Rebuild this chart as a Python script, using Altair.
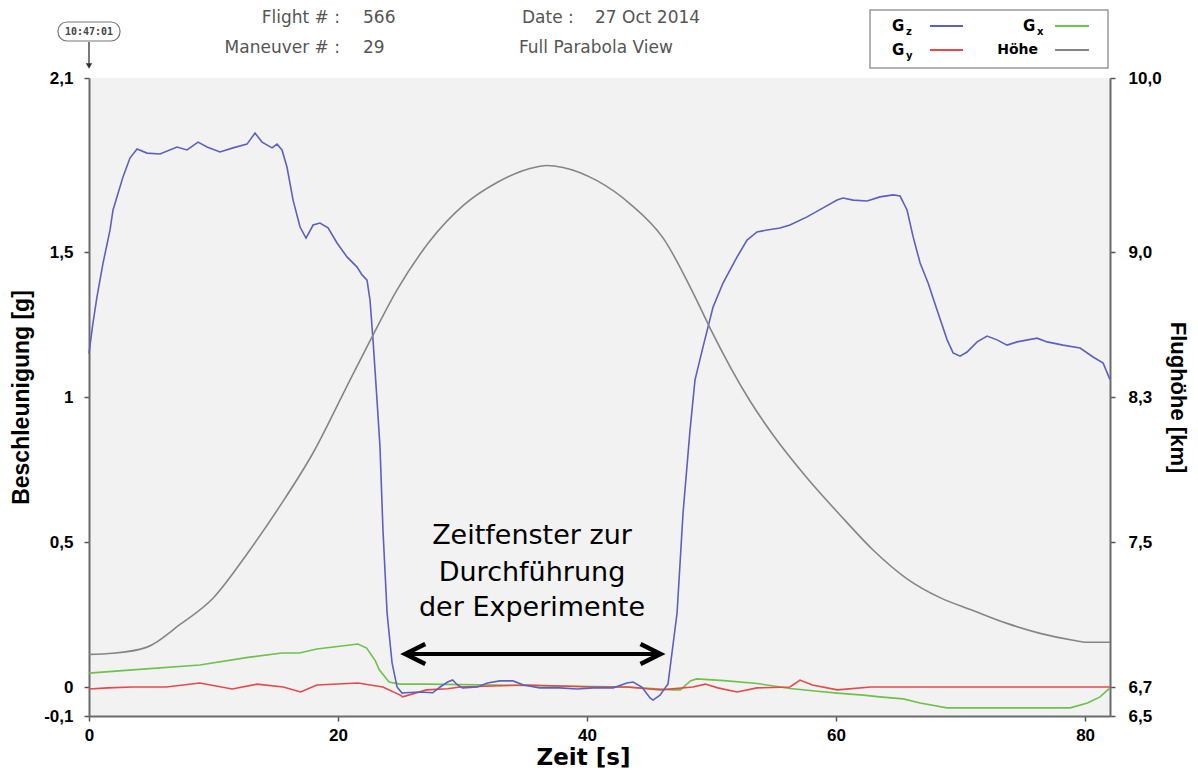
import altair as alt
import pandas as pd

W, H = 1021, 638

# ---- data ----
gz_t = [0.0,0.3,0.64,1.12,1.69,1.93,2.73,3.29,3.86,4.66,
        5.7,7.07,7.87,8.76,9.48,10.52,11.57,12.69,13.33,13.9,
        14.7,15.1,15.5,15.9,16.39,16.95,17.43,18.0,18.55,19.2,
        19.92,20.72,21.53,21.93,22.33,22.57,22.81,23.13,23.37,23.61,
        23.94,24.34,24.74,25.14,25.4,26.6,27.6,28.2,28.8,29.2,
        29.6,30.0,31.2,32.0,33.0,34.05,34.9,36.2,37.8,39.2,
        40.5,42.1,43.2,43.7,44.4,45.06,45.3,45.86,46.27,46.5,
        47.23,47.71,48.27,48.67,49.31,50.12,50.92,52.05,52.85,53.65,
        54.46,55.5,56.3,57.67,58.96,60.08,60.56,61.37,62.49,63.53,
        64.58,65.14,65.7,66.19,66.75,67.39,68.11,68.92,69.4,69.96,
        70.52,71.33,72.13,72.93,73.73,74.54,76.14,76.95,78.23,79.6,
        80.64,81.45,82.0]
gz_g = [1.15,1.25,1.345,1.46,1.576,1.645,1.759,1.824,1.855,1.841,
        1.838,1.862,1.852,1.879,1.862,1.845,1.859,1.872,1.910,1.879,
        1.859,1.872,1.852,1.793,1.679,1.586,1.548,1.593,1.600,1.583,
        1.531,1.483,1.448,1.421,1.403,1.334,1.197,0.99,0.828,0.541,
        0.255,0.083,0.0,-0.021,-0.02,-0.017,-0.02,0.0,0.017,0.024,
        0.007,-0.003,0.0,0.014,0.021,0.021,0.007,-0.003,-0.003,-0.007,
        -0.003,-0.003,0.014,0.017,0.0,-0.038,-0.045,-0.028,-0.003,0.01,
        0.255,0.6,0.886,1.059,1.172,1.31,1.393,1.483,1.541,1.569,
        1.576,1.583,1.593,1.621,1.652,1.679,1.686,1.679,1.676,1.69,
        1.697,1.693,1.645,1.552,1.462,1.393,1.3,1.197,1.152,1.141,
        1.155,1.19,1.21,1.197,1.179,1.19,1.203,1.19,1.179,1.169,
        1.138,1.117,1.06]

gx_t = [0,3.5,8.9,12.9,15.5,16.9,18.3,21.6,22.3,23.0,
        23.3,24.1,24.98,27.1,32.5,37.8,43.2,46.9,47.5,48.3,
        48.8,51.0,53.7,56.3,58.3,60.1,62.2,63.5,65.4,66.75,
        68.9,74.3,78.8,80.2,81.2,82.0]
gx_g = [0.048,0.059,0.076,0.103,0.117,0.117,0.131,0.148,0.134,0.09,
        0.06,0.017,0.01,0.01,0.007,0.003,0.0,-0.01,-0.01,0.021,
        0.028,0.022,0.012,-0.005,-0.014,-0.021,-0.028,-0.034,-0.041,-0.055,
        -0.072,-0.072,-0.072,-0.055,-0.034,-0.003]

gy_t = [0,1.5,3.5,6.2,8.9,11.5,13.5,15.6,17.0,18.3,
        21.6,23.6,25.0,25.2,27.1,28.8,29.8,35.2,40.5,43.2,
        45.9,48.5,49.5,50.5,52.05,53.65,56.3,57.1,58.1,60.1,
        62.8,82.0]
gy_g = [-0.007,-0.003,0.0,0.0,0.014,-0.007,0.01,0.0,-0.017,0.007,
        0.014,0.0,-0.028,-0.034,-0.01,-0.006,0.0,0.007,0.0,0.0,
        -0.01,0.0,0.01,-0.003,-0.017,-0.003,0.0,0.024,0.007,-0.01,
        0.0,0.0]

h_t = [0,1.93,4.66,7.31,9.96,12.69,15.34,17.99,20.72,22.81,
       24.74,27.39,30.04,32.77,35.42,36.79,38.07,40.80,43.45,46.10,
       48.84,49.88,53.09,54.94,57.67,60.32,62.97,65.70,68.35,71.00,
       73.73,76.39,79.04,80.16,82.0]
h_km = [6.88,6.886,6.92,7.045,7.19,7.434,7.699,7.991,8.353,8.599,
        8.817,9.064,9.266,9.399,9.480,9.497,9.486,9.410,9.277,9.081,
        8.763,8.633,8.278,8.090,7.853,7.649,7.456,7.297,7.193,7.122,
        7.051,6.996,6.958,6.947,6.947]

g_ticks = [-0.1, 0, 0.5, 1, 1.5, 2.1]
km_ticks = [6.5, 6.7, 7.5, 8.3, 9.0, 10.0]
x_ticks = [0, 20, 40, 60, 80]
series = ["Gx", "Gy", "Gz"]
colors = ["#6cc24a", "#e8484a", "#5b60c2"]
hoehe_color = "#858585"

arrow_t = [25.4, 45.9]
arrow_g = 0.114

# ---- tables ----
df_g = pd.concat([
    pd.DataFrame({"t": gx_t, "g": gx_g, "s": "Gx"}),
    pd.DataFrame({"t": gy_t, "g": gy_g, "s": "Gy"}),
    pd.DataFrame({"t": gz_t, "g": gz_g, "s": "Gz"}),
])
df_h = pd.DataFrame({"t": h_t, "km": h_km})

xscale = alt.Scale(domain=[0, 82], nice=False, zero=False)
gscale = alt.Scale(domain=[-0.1, 2.1], nice=False, zero=False)
km_range = [H * (2.1 - v) / 2.2 for v in g_ticks]
kmscale = alt.Scale(domain=km_ticks, range=km_range, nice=False, zero=False)

xaxis = alt.Axis(values=x_ticks, title="Zeit [s]", labelPadding=6, titlePadding=3,
                 titleFont="DejaVu Sans", titleFontSize=23, titleX=494,
                 labelFlush=False, labelOverlap=False)
gaxis = alt.Axis(values=g_ticks, title="Beschleunigung [g]", orient="left",
                 labelExpr="replace(toString(datum.value), '.', ',')",
                 labelPadding=11, titlePadding=10, labelFlush=False, labelOverlap=False)
kmaxis = alt.Axis(values=km_ticks, title="Flughöhe [km]", orient="right",
                  labelExpr="replace(format(datum.value, '.1f'), '.', ',')",
                  labelPadding=13, titlePadding=4, titleFontSize=22,
                  labelFlush=False, labelOverlap=False)

g_lines = alt.Chart(df_g).mark_line(strokeWidth=1.6).encode(
    x=alt.X("t:Q", scale=xscale, axis=xaxis),
    y=alt.Y("g:Q", scale=gscale, axis=gaxis),
    color=alt.Color("s:N", scale=alt.Scale(domain=series, range=colors), legend=None),
)

df_arrow = pd.DataFrame({"t": [arrow_t[0]], "t2": [arrow_t[1]], "g": [arrow_g]})
arrow_rule = alt.Chart(df_arrow).mark_rule(color="black", strokeWidth=4).encode(
    x=alt.X("t:Q", scale=xscale), x2="t2:Q", y=alt.Y("g:Q", scale=gscale))
head_l = alt.Chart(pd.DataFrame({"t": [arrow_t[0]], "g": [arrow_g]})).mark_point(
    shape="M1,-0.5L0,0L1,0.5", size=1600, filled=False, stroke="black",
    strokeWidth=4.5, strokeJoin="miter", opacity=1).encode(
    x=alt.X("t:Q", scale=xscale), y=alt.Y("g:Q", scale=gscale))
head_r = alt.Chart(pd.DataFrame({"t": [arrow_t[1]], "g": [arrow_g]})).mark_point(
    shape="M-1,-0.5L0,0L-1,0.5", size=1600, filled=False, stroke="black",
    strokeWidth=4.5, strokeJoin="miter", opacity=1).encode(
    x=alt.X("t:Q", scale=xscale), y=alt.Y("g:Q", scale=gscale))

inner = alt.layer(g_lines, arrow_rule, head_l, head_r)

hoehe = alt.Chart(df_h).mark_line(strokeWidth=1.6, color=hoehe_color, interpolate="monotone").encode(
    x=alt.X("t:Q", scale=xscale, axis=xaxis),
    y=alt.Y("km:Q", scale=kmscale, axis=kmaxis),
)

one = pd.DataFrame({"k": [0]})


def txt(text, x, y, size=17, font="DejaVu Sans", weight="normal", color="#555555",
        align="left", baseline="middle"):
    return alt.Chart(one).mark_text(text=text, align=align, baseline=baseline, font=font,
                                    fontSize=size, fontWeight=weight, color=color).encode(
        x=alt.value(x), y=alt.value(y))


def hline(x1, x2, y, color, width=2):
    return alt.Chart(one).mark_rule(color=color, strokeWidth=width).encode(
        x=alt.value(x1), x2=alt.value(x2), y=alt.value(y))


LF = "DejaVu Sans"
extras = [
    # header
    txt("Flight # :", 251, -60, align="right"),
    txt("566", 274, -60),
    txt("Maneuver # :", 251, -30, align="right"),
    txt("29", 274, -30),
    txt("Date :", 433, -60),
    txt("27 Oct 2014", 506, -60),
    txt("Full Parabola View", 430, -30),
    # time stamp
    alt.Chart(one).mark_rect(cornerRadius=9, fill="white", stroke="#777777", strokeWidth=1.2).encode(
        x=alt.value(-31), x2=alt.value(31), y=alt.value(-56), y2=alt.value(-37)),
    txt("10:47:01", 0, -46.5, size=10, font="DejaVu Sans Mono", weight="bold", color="#444444",
        align="center"),
    alt.Chart(one).mark_rule(color="#333333", strokeWidth=1.3).encode(
        x=alt.value(0), y=alt.value(-36), y2=alt.value(-13)),
    alt.Chart(one).mark_point(shape="triangle-down", size=40, filled=True, color="#333333",
                              opacity=1).encode(x=alt.value(0), y=alt.value(-12)),
    # legend box
    alt.Chart(one).mark_rect(fill="white", stroke="#9a9a9a", strokeWidth=1.5).encode(
        x=alt.value(781), x2=alt.value(1019), y=alt.value(-68), y2=alt.value(-10)),
    txt("G", 803, -52, size=15, font=LF, weight="bold", color="black"),
    txt("z", 817, -46, size=10, font=LF, weight="bold", color="black"),
    hline(841, 874, -52, colors[2]),
    txt("G", 934, -52, size=15, font=LF, weight="bold", color="black"),
    txt("x", 948, -46, size=10, font=LF, weight="bold", color="black"),
    hline(966, 1000, -52, colors[0]),
    txt("G", 803, -28, size=15, font=LF, weight="bold", color="black"),
    txt("y", 817, -22, size=10, font=LF, weight="bold", color="black"),
    hline(841, 874, -28, colors[1]),
    txt("Höhe", 949, -28, size=14, font=LF, weight="bold", color="black", align="right"),
    hline(966, 1000, -28, hoehe_color),
    # annotation
    txt("Zeitfenster zur", 443, 458, size=27, font=LF, color="black", align="center"),
    txt("Durchführung", 443, 495, size=27, font=LF, color="black", align="center"),
    txt("der Experimente", 443, 530, size=27, font=LF, color="black", align="center"),
]

chart = alt.layer(inner, hoehe, *extras).resolve_scale(y="independent").properties(
    width=W, height=H,
    autosize=alt.AutoSizeParams(type="none"),
    padding={"left": 81, "top": 70, "right": 80, "bottom": 57},
).configure_view(fill="#f2f2f2", stroke=None).configure_axis(
    labelFont="Liberation Sans", labelFontWeight="bold", labelFontSize=17, labelColor="black",
    titleFont="Liberation Sans", titleFontWeight="bold", titleFontSize=23, titleColor="black",
    domainColor="#6b6b6b", domainWidth=2, tickColor="#555555", tickWidth=1.5, tickSize=5,
    grid=False,
)

chart.save("out.html", embed_options={"renderer": "svg", "actions": False})
